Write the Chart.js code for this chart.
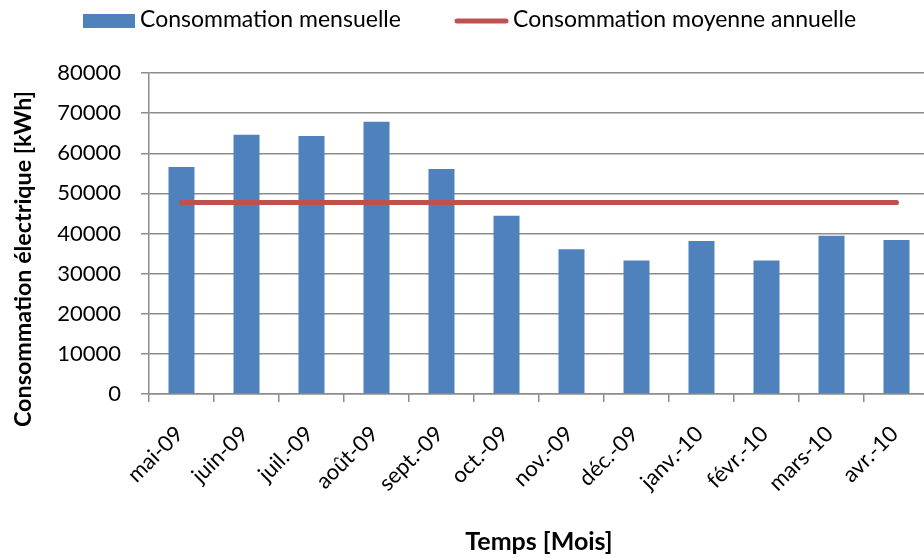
<!DOCTYPE html>
<html lang="fr">
<head>
<meta charset="utf-8">
<title>Consommation électrique</title>
<script src="https://cdn.jsdelivr.net/npm/chart.js@4.4.1/dist/chart.umd.min.js"></script>
<style>
  html, body { margin: 0; padding: 0; background: #fff; overflow: hidden; }
  #wrap { width: 924px; height: 558px; overflow: hidden; position: relative; }
  canvas { display: block; }
</style>
</head>
<body>
<div id="wrap"><canvas id="c" width="932" height="558"></canvas></div>
<script>
// Mois de mai 2009 à avril 2010
const mois = ['mai-09', 'juin-09', 'juil.-09', 'août-09', 'sept.-09', 'oct.-09',
              'nov.-09', 'déc.-09', 'janv.-10', 'févr.-10', 'mars-10', 'avr.-10'];

// Consommation mensuelle [kWh]
const consommationMensuelle = [56550, 64600, 64300, 67850, 56100, 44400,
                               36050, 33300, 38150, 33300, 39450, 38350];

// Consommation moyenne annuelle [kWh], répétée sur chaque mois
const consommationMoyenne = [47700, 47700, 47700, 47700, 47700, 47700,
                             47700, 47700, 47700, 47700, 47700, 47700];

const yMin = 0, yMax = 80000, yStep = 10000;

const BLEU = '#4F81BD';
const ROUGE = '#C0504D';
const GRILLE = '#8c8c8c';
const POLICE = 'Lato, "Open Sans", sans-serif';

// Légende et titre de l'axe vertical dessinés à la main
const decor = {
  id: 'decor',
  afterDraw(chart) {
    const ctx = chart.ctx;
    const ds = chart.data.datasets;
    ctx.save();
    ctx.font = '23px ' + POLICE;
    ctx.textBaseline = 'middle';
    ctx.textAlign = 'left';
    // Barres
    ctx.fillStyle = ds[0].backgroundColor;
    ctx.fillRect(83, 14, 52, 14);
    ctx.fillStyle = '#000';
    ctx.fillText(ds[0].label, 140, 20);
    // Ligne
    ctx.strokeStyle = ds[1].borderColor;
    ctx.lineWidth = 5;
    ctx.lineCap = 'round';
    ctx.beginPath();
    ctx.moveTo(457, 21);
    ctx.lineTo(506, 21);
    ctx.stroke();
    ctx.fillText(ds[1].label, 513, 20);

    // Titre de l'axe Y
    ctx.translate(23, 259);
    ctx.rotate(-Math.PI / 2);
    ctx.font = 'bold 23.3px ' + POLICE;
    ctx.textAlign = 'center';
    ctx.fillText('Consommation électrique [kWh]', 0, 0);
    ctx.restore();
  }
};

new Chart(document.getElementById('c'), {
  type: 'bar',
  data: {
    labels: mois,
    datasets: [
      {
        type: 'bar',
        label: 'Consommation mensuelle',
        data: consommationMensuelle,
        backgroundColor: BLEU,
        borderWidth: 0,
        categoryPercentage: 1,
        barPercentage: 0.4,
        order: 2
      },
      {
        type: 'line',
        label: 'Consommation moyenne annuelle',
        data: consommationMoyenne,
        borderColor: ROUGE,
        backgroundColor: ROUGE,
        borderWidth: 5,
        borderCapStyle: 'round',
        pointRadius: 0,
        fill: false,
        order: 1
      }
    ]
  },
  options: {
    responsive: false,
    devicePixelRatio: 1,
    animation: false,
    layout: { padding: { top: 73, left: 0, right: 3, bottom: 0 } },
    plugins: {
      legend: { display: false },
      tooltip: { enabled: false }
    },
    scales: {
      x: {
        afterFit(s) {
          s.height = 164;
          s.paddingLeft = 0;
          s.paddingRight = 0;
        },
        grid: {
          offset: true,
          drawOnChartArea: false,
          drawTicks: true,
          tickLength: 8,
          color: GRILLE,
          lineWidth: 1.5
        },
        border: { display: true, color: GRILLE, width: 1.5 },
        ticks: {
          autoSkip: false,
          minRotation: 45,
          maxRotation: 45,
          padding: 19,
          labelOffset: -2,
          color: '#000',
          font: { family: POLICE, size: 22 }
        },
        title: {
          display: true,
          text: 'Temps [Mois]',
          color: '#000',
          font: { family: POLICE, size: 25, weight: 'bold' },
          padding: { top: 0, bottom: 1 }
        }
      },
      y: {
        min: yMin,
        max: yMax,
        afterFit(s) {
          s.width = 149;
          s.paddingTop = 0;
          s.paddingBottom = 0;
        },
        grid: {
          drawTicks: true,
          tickLength: 8,
          color: GRILLE,
          lineWidth: 1.5
        },
        border: { display: true, color: GRILLE, width: 1.5 },
        ticks: {
          stepSize: yStep,
          padding: 20,
          color: '#000',
          font: { family: POLICE, size: 22 },
          callback: v => String(v)
        }
      }
    }
  },
  plugins: [decor]
});
</script>
</body>
</html>
